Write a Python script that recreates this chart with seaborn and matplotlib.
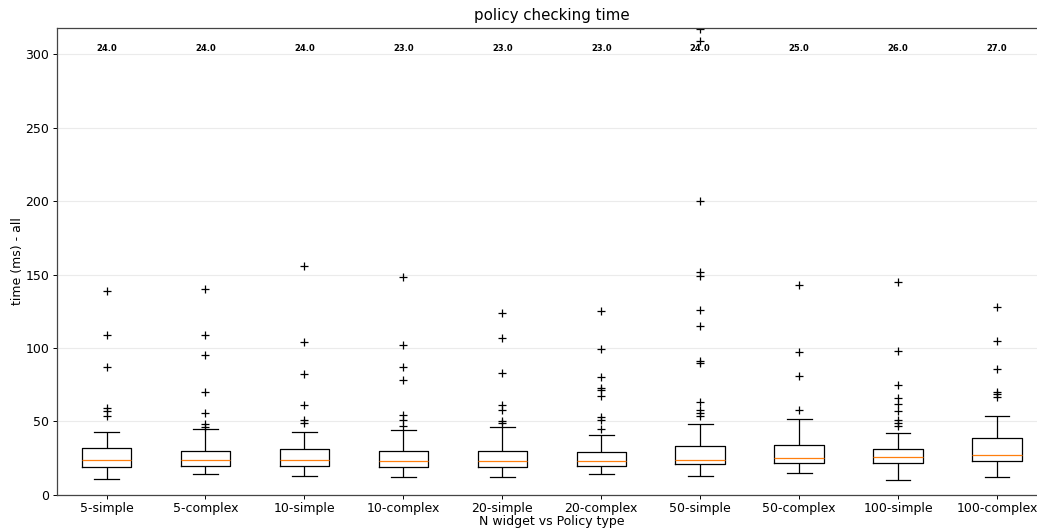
import pandas as pd
import seaborn as sns
import matplotlib.pyplot as plt

# values (ms)
categories = [
    "5-simple", "5-complex", "10-simple", "10-complex", "20-simple",
    "20-complex", "50-simple", "50-complex", "100-simple", "100-complex",
]
whisker_low = [11, 14, 13, 12, 12, 14, 13, 15, 10, 12]
q1 = [19, 20, 19.5, 19, 19, 20, 21, 22, 22, 23]
median = [24, 24, 24, 23, 23, 23, 24, 25, 26, 27]
q3 = [32, 30, 31, 30, 30, 29.5, 33, 34, 31, 39]
whisker_high = [43, 45, 43, 44, 46, 41, 48.5, 52, 42, 54]
outliers = [
    [54, 57, 59, 87, 109, 139],
    [46.5, 48, 56, 70, 95, 109, 140],
    [49, 51, 61, 82, 104, 156],
    [47, 51, 54.5, 78, 87, 102, 148],
    [49, 50.5, 58, 61, 83, 107, 124],
    [45, 51, 53, 67.5, 71.5, 73, 80, 99, 125],
    [53.5, 55.5, 57.5, 63, 90, 91, 115, 126, 149, 152, 200, 309, 317],
    [58, 81, 97, 143],
    [47, 49, 51, 57, 62, 66, 75, 98, 145],
    [67, 68.5, 70, 85.5, 105, 128],
]


def build_samples() -> pd.DataFrame:
    """
    Expands the summary numbers into raw samples whose quartiles
    (linear percentiles) land exactly on the values above.
    """
    rows = []
    for i, cat in enumerate(categories):
        m = len(outliers[i])
        k = m + 2
        values = (
            [whisker_low[i]]
            + [q1[i]] * k
            + [median[i]] * k
            + [q3[i]] * (2 * k - m - 1)
            + [whisker_high[i]]
            + outliers[i]
        )
        rows += [(cat, v) for v in values]
    return pd.DataFrame(rows, columns=["policy", "time"])


df = build_samples()

fig = plt.figure(figsize=(10.37, 5.31), dpi=100)
ax = fig.add_axes([0.055, 0.0678, 0.9542, 0.8795])

sns.boxplot(
    data=df,
    x="policy",
    y="time",
    order=categories,
    width=0.5,
    fill=False,
    color="black",
    linewidth=0.9,
    whis=1.5,
    medianprops={"color": "#ff7f0e", "linewidth": 0.9},
    flierprops={"marker": "+", "markeredgecolor": "black", "markersize": 5.4,
                "markeredgewidth": 0.9},
    ax=ax,
)

ax.set_ylim(0, 317.7)
ax.set_xlim(-0.5, len(categories) - 0.5)
ax.set_yticks(range(0, 301, 50))
ax.yaxis.grid(True, color="#ebebeb", linewidth=0.8)
ax.set_axisbelow(True)

# median labels along the top
meds = df.groupby("policy")["time"].median()
for i, cat in enumerate(categories):
    ax.text(i, 304, f"{meds[cat]:.1f}", ha="center", va="center",
            fontsize=6, fontweight="bold")

ax.set_title("policy checking time", fontsize=10.8, pad=5.4)
ax.set_xlabel("N widget vs Policy type", fontsize=9, labelpad=0.5)
ax.set_ylabel("time (ms) - all", fontsize=9, labelpad=1)
ax.tick_params(axis="x", labelsize=9, length=3.2, width=0.7, pad=1.5)
ax.tick_params(axis="y", labelsize=9, length=3.2, width=0.7, pad=2.5)
for side in ["left", "bottom", "top"]:
    ax.spines[side].set_color("#444444")
    ax.spines[side].set_linewidth(0.9)

fig.savefig("out.png", dpi=100)
plt.close(fig)
